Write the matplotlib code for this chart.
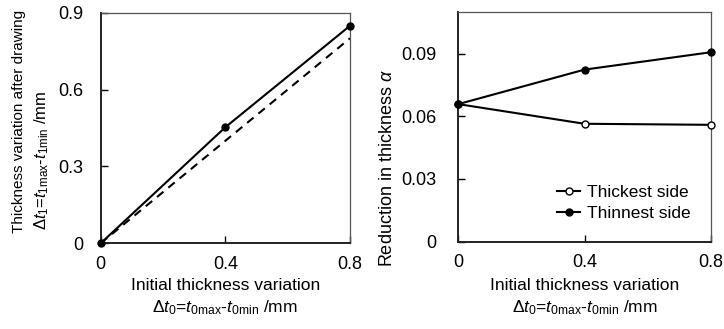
import matplotlib
matplotlib.use("Agg")
import matplotlib.pyplot as plt

plt.rcParams['font.family'] = ['Liberation Sans', 'DejaVu Sans']
plt.rcParams['mathtext.fontset'] = 'custom'
plt.rcParams['mathtext.rm'] = 'Liberation Sans'
plt.rcParams['mathtext.it'] = 'Liberation Sans:italic'
plt.rcParams['mathtext.bf'] = 'Liberation Sans:bold'

# ---- data ----
x_vals = [0, 0.4, 0.8]
dt1_vals = [0, 0.453, 0.849]
ref_x = [0, 0.8]
ref_y = [0, 0.8]
thickest_vals = [0.0658, 0.0564, 0.0559]
thinnest_vals = [0.0658, 0.0823, 0.0906]
x_ticks = [0, 0.4, 0.8]
x_ticklabels = ['0', '0.4', '0.8']
left_yticks = [0, 0.3, 0.6, 0.9]
left_yticklabels = ['0', '0.3', '0.6', '0.9']
right_yticks = [0, 0.03, 0.06, 0.09]
right_yticklabels = ['0', '0.03', '0.06', '0.09']

W, H = 724, 329
FS = 12.5
TFS = 13
fig = plt.figure(figsize=(W / 100, H / 100), dpi=100)

def axrect(l, r, t, b):
    return [l / W, (H - b) / H, (r - l) / W, (b - t) / H]

def style(ax, ypad):
    for s in ['left', 'bottom']:
        ax.spines[s].set_linewidth(1.4)
        ax.spines[s].set_color('#222222')
    for s in ['top', 'right']:
        ax.spines[s].set_linewidth(0.9)
        ax.spines[s].set_color('#555555')
    ax.tick_params(direction='in', length=5, width=1.0, labelsize=TFS,
                   top=False, right=False)
    ax.tick_params(axis='x', pad=9)
    ax.tick_params(axis='y', pad=ypad)

ax1 = fig.add_axes(axrect(100.7, 350, 12.7, 243.3))
ax1.plot(ref_x, ref_y, color='black', lw=1.5, ls=(0, (4, 3)))
ax1.plot(x_vals, dt1_vals, color='black', lw=1.5, marker='o', ms=5, clip_on=False, zorder=3)
ax1.set_xlim(0, 0.8)
ax1.set_ylim(0, 0.9)
ax1.set_xticks(x_ticks)
ax1.set_xticklabels(x_ticklabels)
ax1.set_yticks(left_yticks)
ax1.set_yticklabels(left_yticklabels)
style(ax1, 12.5)

ax2 = fig.add_axes(axrect(458.3, 710.7, 11.7, 241.7))
ax2.plot(x_vals, thickest_vals, color='black', lw=1.5, marker='o', ms=5,
         mfc='white', mec='black', mew=1.0, clip_on=False, zorder=3, label='Thickest side')
ax2.plot(x_vals, thinnest_vals, color='black', lw=1.5, marker='o', ms=5,
         clip_on=False, zorder=3, label='Thinnest side')
ax2.set_xlim(0, 0.8)
ax2.set_ylim(0, 0.11)
ax2.set_xticks(x_ticks)
ax2.set_xticklabels(x_ticklabels)
ax2.set_yticks(right_yticks)
ax2.set_yticklabels(right_yticklabels)
style(ax2, 16)
leg = ax2.legend(loc='center left', bbox_to_anchor=(557 / W, (H - 203) / H),
                 bbox_transform=fig.transFigure, frameon=False, fontsize=FS,
                 handlelength=1.35, handletextpad=0.35, labelspacing=0.3,
                 borderpad=0, borderaxespad=0)

def ftext(x, y, s, fs=FS, **kw):
    fig.text(x / W, (H - y) / H, s, fontsize=fs, **kw)

line2 = r'$\mathit{Δt}_0$=$\mathit{t}_{0\mathrm{max}}$-$\mathit{t}_{0\mathrm{min}}$ /mm'
for cx in [(100.7 + 350) / 2, (458.3 + 710.7) / 2]:
    ftext(cx, 285, 'Initial thickness variation', ha='center', va='center')
    ftext(cx, 308, line2, ha='center', va='center')

ftext(19, 233, 'Thickness variation after drawing', fs=11, rotation=90, ha='center', va='bottom')
ftext(42, 230, r'$\mathit{Δt}_1$=$\mathit{t}_{1\mathrm{max}}$-$\mathit{t}_{1\mathrm{min}}$ /mm',
      fs=12, rotation=90, ha='center', va='bottom')
ftext(387, 267, r'Reduction in thickness $\mathit{α}$', fs=13, rotation=90, ha='center', va='bottom')

fig.savefig('out.png', dpi=100)
